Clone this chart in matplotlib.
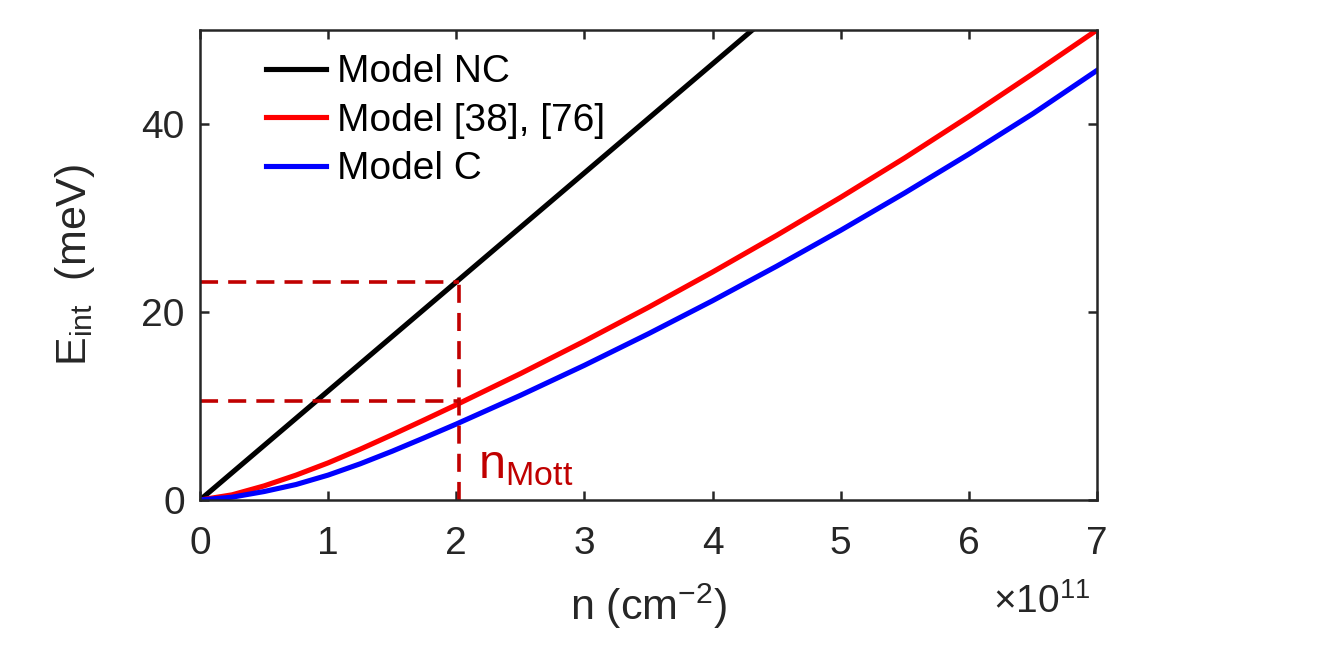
import matplotlib
matplotlib.use("Agg")
import matplotlib.pyplot as plt

# ---- data (n in units of 1e11 cm^-2, E in meV) ----
n_nc = [0.0, 7.0]
E_nc = [0.0, 81.2]

n_curve = [0.0, 0.25, 0.5, 0.75, 1.0, 1.25, 1.5, 1.75, 2.0, 2.5, 3.0, 3.5,
           4.0, 4.5, 5.0, 5.5, 6.0, 6.5, 7.0]
E_ref = [0.0, 0.55, 1.5, 2.65, 3.95, 5.4, 6.94, 8.52, 10.13, 13.44, 16.9, 20.5,
         24.25, 28.15, 32.2, 36.4, 40.8, 45.35, 50.0]
E_c = [0.0, 0.3, 0.9, 1.65, 2.65, 3.85, 5.19, 6.62, 8.08, 11.13, 14.33, 17.69,
       21.2, 24.87, 28.69, 32.67, 36.8, 41.1, 45.7]

labels = ["Model NC", "Model [38], [76]", "Model C"]

n_mott = 2.02
E_mott_nc = 23.2
E_mott_ref = 10.5

xticks = [0, 1, 2, 3, 4, 5, 6, 7]
yticks = [0, 20, 40]

plt.rcParams['font.family'] = ['Liberation Sans', 'DejaVu Sans']
plt.rcParams['mathtext.fontset'] = 'custom'
plt.rcParams['mathtext.rm'] = 'Liberation Sans'
plt.rcParams['mathtext.it'] = 'Liberation Sans'
plt.rcParams['mathtext.bf'] = 'Liberation Sans:bold'

FS = 28
FSL = 31
AX_COL = '#262626'
DR = '#C00000'

fig = plt.figure(figsize=(13.28, 6.52), dpi=100)
ax = fig.add_axes([200/1328, 1 - 500/652, 897/1328, 470/652])

ax.plot(n_nc, E_nc, color='black', lw=3.7, label=labels[0])
ax.plot(n_curve, E_ref, color='#FF0000', lw=3.7, label=labels[1])
ax.plot(n_curve, E_c, color='#0000FF', lw=3.7, label=labels[2])

ax.plot([0, n_mott], [E_mott_nc, E_mott_nc], color=DR, lw=2.6, dashes=(5, 2.8))
ax.plot([0, n_mott], [E_mott_ref, E_mott_ref], color=DR, lw=2.6, dashes=(5, 2.8))
ax.plot([n_mott, n_mott], [0, E_mott_nc], color=DR, lw=2.6, dashes=(5, 2.8))

ax.text(2.17, 2.3, r"n$_{\mathrm{Mott}}$", color=DR, fontsize=35, ha='left', va='baseline')

ax.set_xlim(0, 7)
ax.set_ylim(0, 50)
ax.set_xticks(xticks)
ax.set_yticks(yticks)
ax.set_xticklabels([str(t) for t in xticks])
ax.set_yticklabels([str(t) for t in yticks])

for sp in ax.spines.values():
    sp.set_color(AX_COL)
    sp.set_linewidth(1.8)
ax.tick_params(direction='in', length=6.5, width=1.8, colors=AX_COL, labelsize=FS,
               top=True, right=True)
ax.tick_params(axis='x', pad=19)
ax.tick_params(axis='y', pad=11)

ax.set_xlabel(r"n (cm$^{-2}$)", fontsize=FSL, color=AX_COL, labelpad=14)
ax.set_ylabel(r"E$_{\mathrm{int}}$  (meV)", fontsize=FSL, color=AX_COL, labelpad=32)

fig.text(1090/1328, 1 - 613/652, r"$\times$10$^{11}$", fontsize=FS, color=AX_COL,
         ha='right', va='baseline')

leg = ax.legend(loc='upper left', bbox_to_anchor=(0.043, 1.006), frameon=False,
                fontsize=FS, handlelength=1.54, handletextpad=0.28,
                labelspacing=0.32, borderaxespad=0.3)
for t in leg.get_texts():
    t.set_color('black')

fig.savefig("out.png", dpi=100)
